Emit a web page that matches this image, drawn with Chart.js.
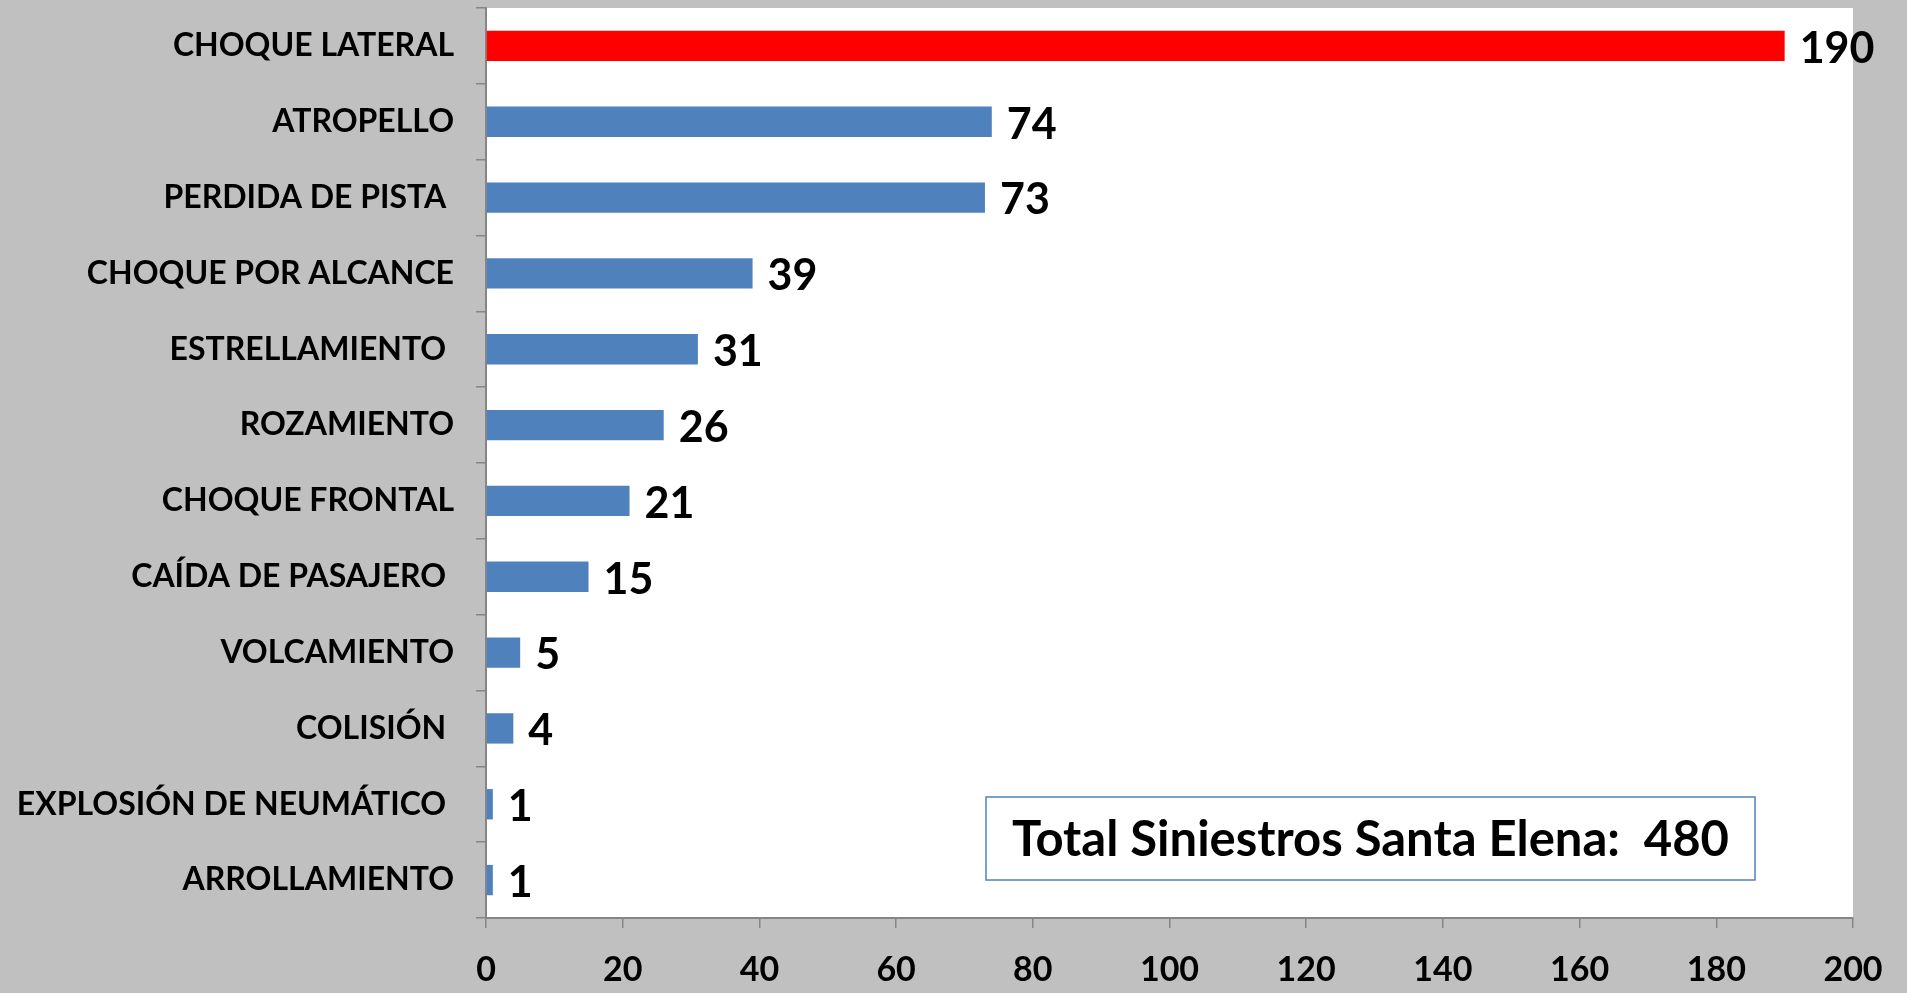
<!DOCTYPE html>
<html>
<head>
<meta charset="utf-8">
<script src="https://cdn.jsdelivr.net/npm/chart.js@4"></script>
<style>
  html, body { margin: 0; padding: 0; background: #c0c0c0; }
  #wrap { width: 1907px; height: 993px; }
</style>
</head>
<body>
<div id="wrap"><canvas id="siniestrosChart" width="1907" height="993"></canvas></div>
<script>
// data
const categories = ["CHOQUE LATERAL", "ATROPELLO", "PERDIDA DE PISTA ", "CHOQUE POR ALCANCE", "ESTRELLAMIENTO ",
    "ROZAMIENTO", "CHOQUE FRONTAL", "CAÍDA DE PASAJERO ", "VOLCAMIENTO", "COLISIÓN ",
    "EXPLOSIÓN DE NEUMÁTICO ", "ARROLLAMIENTO"];
const siniestros = [190, 74, 73, 39, 31, 26, 21, 15, 5, 4, 1, 1];
const barColors = ["#ff0000", "#4f81bd", "#4f81bd", "#4f81bd", "#4f81bd", "#4f81bd",
    "#4f81bd", "#4f81bd", "#4f81bd", "#4f81bd", "#4f81bd", "#4f81bd"];
const xMin = 0, xMax = 200, xStep = 20;
const totalLabel = "Total Siniestros Santa Elena:  480";

const FONT = "Lato, 'Open Sans', sans-serif";

// white plot area
const plotBg = {
    id: "plotBg",
    beforeDraw(chart) {
        const a = chart.chartArea, c = chart.ctx;
        c.save();
        c.fillStyle = "#ffffff";
        c.fillRect(a.left, a.top, a.right - a.left, a.bottom - a.top);
        c.restore();
    }
};

// value labels next to each bar
const valueLabels = {
    id: "valueLabels",
    afterDatasetsDraw(chart) {
        const c = chart.ctx;
        const meta = chart.getDatasetMeta(0);
        c.save();
        c.font = "bold 43px " + FONT;
        c.fillStyle = "#000000";
        c.textAlign = "left";
        c.textBaseline = "middle";
        meta.data.forEach((bar, i) => {
            c.fillText(String(siniestros[i]), bar.x + 15, bar.y + 3);
        });
        c.restore();
    }
};

// total text box
const totalBox = {
    id: "totalBox",
    afterDraw(chart) {
        const c = chart.ctx;
        const x = 986, y = 797, w = 769, h = 83;
        c.save();
        c.fillStyle = "#ffffff";
        c.fillRect(x, y, w, h);
        c.strokeStyle = "#4f81bd";
        c.lineWidth = 1.5;
        c.strokeRect(x, y, w, h);
        c.font = "bold 49px " + FONT;
        c.fillStyle = "#000000";
        c.textAlign = "center";
        c.textBaseline = "middle";
        c.fillText(totalLabel, x + w / 2, y + h / 2 + 2);
        c.restore();
    }
};

new Chart(document.getElementById("siniestrosChart").getContext("2d"), {
    type: "bar",
    data: {
        labels: categories,
        datasets: [{
            data: siniestros,
            backgroundColor: barColors,
            borderWidth: 0,
            barPercentage: 0.4,
            categoryPercentage: 1.0
        }]
    },
    options: {
        indexAxis: "y",
        responsive: false,
        animation: false,
        layout: { padding: { top: 8, right: 54, bottom: 0, left: 0 } },
        plugins: {
            legend: { display: false },
            tooltip: { enabled: false }
        },
        scales: {
            x: {
                min: xMin,
                max: xMax,
                ticks: {
                    stepSize: xStep,
                    color: "#000000",
                    font: { family: FONT, size: 34, weight: "bold" },
                    padding: 22
                },
                grid: {
                    drawOnChartArea: false,
                    drawTicks: true,
                    tickLength: 10,
                    color: "#868686",
                    lineWidth: 1.5
                },
                border: { display: true, color: "#868686", width: 2 },
                afterFit(scale) { scale.height = 75; }
            },
            y: {
                ticks: {
                    color: "#000000",
                    font: { family: FONT, size: 32, weight: "bold" },
                    padding: 22,
                    autoSkip: false
                },
                grid: {
                    offset: true,
                    drawOnChartArea: false,
                    drawTicks: true,
                    tickLength: 10,
                    color: "#868686",
                    lineWidth: 1.5
                },
                border: { display: true, color: "#868686", width: 2 },
                afterFit(scale) {
                    scale.width = 486;
                    scale.paddingTop = 0;
                    scale.paddingBottom = 0;
                }
            }
        }
    },
    plugins: [plotBg, valueLabels, totalBox]
});
</script>
</body>
</html>
